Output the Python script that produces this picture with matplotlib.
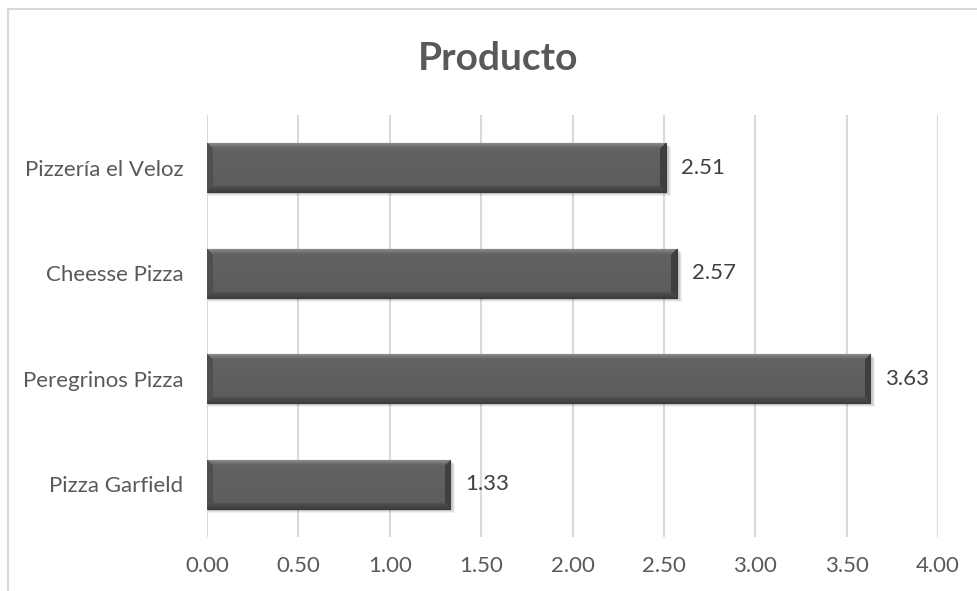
import numpy as np
import matplotlib
matplotlib.use("Agg")
import matplotlib.pyplot as plt
from matplotlib.patches import Rectangle

plt.rcParams['font.family'] = ['Lato', 'DejaVu Sans']

# datos
productos = ['Pizzería el Veloz', 'Cheesse Pizza', 'Peregrinos Pizza', 'Pizza Garfield']
valores = [2.51, 2.57, 3.63, 1.33]
xticks = [0.0, 0.5, 1.0, 1.5, 2.0, 2.5, 3.0, 3.5, 4.0]

W, H = 977, 591
fig = plt.figure(figsize=(W/100, H/100), dpi=100)
ax = fig.add_axes([207/W, 1-537/H, (938-207)/W, (537-115)/H])

gris = '#595959'
ypos = np.arange(len(productos))[::-1]
bars = ax.barh(ypos, valores, height=0.465, color='#5a5a5a', edgecolor='#3a3a3a', linewidth=0.8, zorder=3)

ax.set_xlim(0, 4)
ax.set_ylim(-0.5, len(productos)-0.5)

# sombra + bisel
px_x = (938-207)/4.0
px_y = (537-115)/4.0
bev = 6.0
for b in bars:
    x0, y0 = b.get_x(), b.get_y()
    w, h = b.get_width(), b.get_height()
    # sombra
    for k, a in [(4, 0.05), (3, 0.07), (2, 0.09)]:
        ax.add_patch(Rectangle((x0 + 1/px_x, y0 - k/px_y), w + k/px_x, h, color='black', alpha=a, lw=0, zorder=2))
    nw = max(int(w*px_x), 2)
    nh = max(int(h*px_y), 2)
    u = np.arange(nw)[None, :] + 0.5
    v = np.arange(nh)[:, None] + 0.5
    d_left = np.broadcast_to(u, (nh, nw))
    d_right = np.broadcast_to(nw - u, (nh, nw))
    d_top = np.broadcast_to(v, (nh, nw))
    d_bot = np.broadcast_to(nh - v, (nh, nw))
    val = 0.36 + 0.03*(1 - v/nh) * np.ones((nh, nw))
    dmin = np.minimum(np.minimum(d_left, d_right), np.minimum(d_top, d_bot))
    inb = dmin < bev
    top = inb & (d_top == dmin)
    bot = inb & (d_bot == dmin) & ~top
    lef = inb & (d_left == dmin) & ~top & ~bot
    rig = inb & (d_right == dmin) & ~top & ~bot & ~lef
    val = np.where(top, 0.58 - 0.2*(d_top/bev), val)
    val = np.where(bot, 0.24 + 0.08*(d_bot/bev), val)
    val = np.where(lef, 0.31, val)
    val = np.where(rig, 0.25, val)
    img = np.dstack([val, val, val])
    im = ax.imshow(img, extent=(x0, x0+w, y0, y0+h), origin='upper', aspect='auto',
                   interpolation='bilinear', zorder=3.5)
    im.set_clip_path(b)
    ax.text(x0 + w + 15/px_x, y0 + h/2, f'{w:.2f}', va='center', ha='left',
            fontsize=16, color='#404040', zorder=5)

ax.set_xlim(0, 4)
ax.set_ylim(-0.5, len(productos)-0.5)
ax.set_yticks(ypos)
ax.set_yticklabels(productos)
ax.set_xticks(xticks)
ax.set_xticklabels([f'{t:.2f}' for t in xticks])
ax.tick_params(axis='both', length=0, labelsize=16, labelcolor=gris)
ax.tick_params(axis='y', pad=17)
ax.tick_params(axis='x', pad=14)
ax.grid(axis='x', color='#d9d9d9', linewidth=1.5, zorder=0)
ax.set_axisbelow(True)
for s in ax.spines.values():
    s.set_visible(False)

fig.text(498/W, 1-58/H, 'Producto', ha='center', va='center', fontsize=28,
         fontweight='bold', color=gris)

# borde del grafico
fig.patches.append(Rectangle((8/W, -0.1), 1.2, 1-9/H+0.1, transform=fig.transFigure,
                             fill=False, edgecolor='#d9d9d9', linewidth=1.5))

fig.savefig('out.png', dpi=100)
